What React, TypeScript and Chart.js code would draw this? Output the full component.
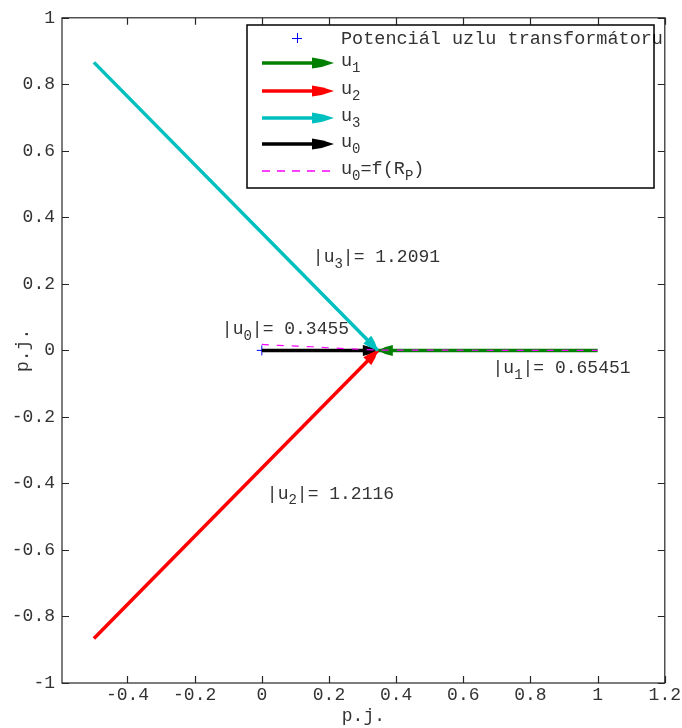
import React, { useEffect, useRef } from 'react';
import { Chart, registerables } from 'chart.js';

Chart.register(...registerables);

// ---- axis ticks ----
const xTickValues = [-0.4, -0.2, 0, 0.2, 0.4, 0.6, 0.8, 1, 1.2];
const xTickLabels = ['-0.4', '-0.2', '0', '0.2', '0.4', '0.6', '0.8', '1', '1.2'];
const yTickValues = [-1, -0.8, -0.6, -0.4, -0.2, 0, 0.2, 0.4, 0.6, 0.8, 1];
const yTickLabels = ['-1', '-0.8', '-0.6', '-0.4', '-0.2', '0', '0.2', '0.4', '0.6', '0.8', '1'];

// ---- series (tail -> tip) ----
const originX = [0];
const originY = [0];
const u1X = [1, 0.3455];
const u1Y = [0, 0];
const u2X = [-0.5, 0.3455];
const u2Y = [-0.866, 0];
const u3X = [-0.5, 0.3455];
const u3Y = [0.866, 0];
const u0X = [0, 0.3455];
const u0Y = [0, 0];
const locusX = [0, 0.05, 0.1, 0.15, 0.2, 0.25, 0.3, 0.35, 0.45, 0.6, 0.8, 1];
const locusY = [0.018, 0.015, 0.013, 0.011, 0.008, 0.005, 0.003, 0.001, 0.001, 0.0005, 0.0002, 0];

// ---- annotations ----
const annotX = [0.687, -0.119, 0.015, 0.152];
const annotY = [-0.054, 0.063, -0.431, 0.281];
const annotSub = ['1', '0', '2', '3'];
const annotValue = ['0.65451', '0.3455', '1.2116', '1.2091'];

const TEXT = '#333333';
const MAGENTA = '#ff00ff';
const MONO = '"Liberation Mono", "DejaVu Sans Mono", monospace';
const MAIN_FONT = `18px ${MONO}`;
const LEG_FONT = `18.5px ${MONO}`;
const SUB_FONT = `14px ${MONO}`;

type Part = [string, boolean];

function drawRich(ctx: CanvasRenderingContext2D, x: number, y: number, parts: Part[], mainFont = MAIN_FONT) {
  let cx = x;
  ctx.textBaseline = 'middle';
  ctx.textAlign = 'left';
  for (const [t, sub] of parts) {
    ctx.font = sub ? SUB_FONT : mainFont;
    ctx.fillText(t, cx, sub ? y + 7 : y);
    cx += ctx.measureText(t).width;
  }
}

function drawHead(ctx: CanvasRenderingContext2D, x: number, y: number, ang: number, len: number, half: number, color: string) {
  ctx.save();
  ctx.translate(x, y);
  ctx.rotate(ang);
  ctx.fillStyle = color;
  ctx.beginPath();
  ctx.moveTo(0, 0);
  ctx.quadraticCurveTo(-len * 0.5, -half * 0.8, -len, -half);
  ctx.lineTo(-len, half);
  ctx.quadraticCurveTo(-len * 0.5, half * 0.8, 0, 0);
  ctx.closePath();
  ctx.fill();
  ctx.restore();
}

const arrowPlugin = {
  id: 'arrowHeads',
  afterDatasetDraw(chart: any, args: any) {
    const ds = chart.data.datasets[args.index];
    if (!ds.isArrow) return;
    const pts = args.meta.data;
    const tip = pts[pts.length - 1];
    const tail = pts[pts.length - 2];
    const ang = Math.atan2(tip.y - tail.y, tip.x - tail.x);
    const ctx = chart.ctx;
    ctx.save();
    const a = chart.chartArea;
    ctx.beginPath();
    ctx.rect(a.left, a.top, a.right - a.left, a.bottom - a.top);
    ctx.clip();
    drawHead(ctx, tip.x, tip.y, ang, 15, 5.5, ds.borderColor);
    ctx.restore();
  },
};

const boxPlugin = {
  id: 'matlabBox',
  afterDatasetsDraw(chart: any) {
    const ctx = chart.ctx;
    const { left, right, top, bottom } = chart.chartArea;
    const xs = chart.scales.x;
    const ys = chart.scales.y;
    ctx.save();
    ctx.strokeStyle = '#262626';
    ctx.lineWidth = 1.2;
    ctx.strokeRect(left, top, right - left, bottom - top);
    ctx.beginPath();
    const tl = 7;
    for (const v of xTickValues) {
      const px = Math.round(xs.getPixelForValue(v)) + 0.5;
      ctx.moveTo(px, bottom);
      ctx.lineTo(px, bottom - tl);
      ctx.moveTo(px, top);
      ctx.lineTo(px, top + tl);
    }
    for (const v of yTickValues) {
      const py = Math.round(ys.getPixelForValue(v)) + 0.5;
      ctx.moveTo(left, py);
      ctx.lineTo(left + tl, py);
      ctx.moveTo(right, py);
      ctx.lineTo(right - tl, py);
    }
    ctx.stroke();

    // annotations
    ctx.fillStyle = TEXT;
    for (let i = 0; i < annotX.length; i++) {
      const px = xs.getPixelForValue(annotX[i]);
      const py = ys.getPixelForValue(annotY[i]);
      drawRich(ctx, px, py, [['|u', false], [annotSub[i], true], ['|= ' + annotValue[i], false]]);
    }
    ctx.restore();
  },
  afterDraw(chart: any) {
    const ctx = chart.ctx;
    const ds = chart.data.datasets;
    const bx = 247, by = 25, bw = 407, bh = 163;
    ctx.save();
    ctx.fillStyle = '#ffffff';
    ctx.fillRect(bx, by, bw, bh);
    const rows = [38, 63, 91, 118, 144, 171];
    const x0 = 262, x1 = 334, tx = 341;
    // row 0: plus marker
    ctx.strokeStyle = ds[0].borderColor;
    ctx.lineWidth = 1;
    ctx.beginPath();
    ctx.moveTo(297 - 5, rows[0] + 0.5);
    ctx.lineTo(297 + 5, rows[0] + 0.5);
    ctx.moveTo(297.5, rows[0] - 5);
    ctx.lineTo(297.5, rows[0] + 5);
    ctx.stroke();
    // arrow rows: u1, u2, u3, u0
    const arrowIdx = [2, 3, 4, 1];
    for (let r = 1; r <= 4; r++) {
      const col = ds[arrowIdx[r - 1]].borderColor;
      ctx.strokeStyle = col;
      ctx.lineWidth = 3.5;
      ctx.beginPath();
      ctx.moveTo(x0, rows[r]);
      ctx.lineTo(x1 - 10, rows[r]);
      ctx.stroke();
      drawHead(ctx, x1, rows[r], 0, 22, 5.5, col);
    }
    // dashed row
    ctx.strokeStyle = MAGENTA;
    ctx.lineWidth = 1.5;
    ctx.setLineDash([8, 7]);
    ctx.beginPath();
    ctx.moveTo(x0, rows[5]);
    ctx.lineTo(x1, rows[5]);
    ctx.stroke();
    ctx.setLineDash([]);
    // texts
    ctx.fillStyle = TEXT;
    drawRich(ctx, tx, rows[0] + 1, [[ds[0].label, false]], LEG_FONT);
    const subs = ['1', '2', '3', '0'];
    for (let i = 1; i <= 4; i++) {
      drawRich(ctx, tx, rows[i] - 2, [['u', false], [subs[i - 1], true]], LEG_FONT);
    }
    drawRich(ctx, tx, rows[5] - 2, [['u', false], ['0', true], ['=f(R', false], ['P', true], [')', false]], LEG_FONT);
    ctx.strokeStyle = '#000000';
    ctx.lineWidth = 1.5;
    ctx.strokeRect(bx, by, bw, bh);
    ctx.restore();
  },
};

function pts(xs: number[], ys: number[]) {
  return xs.map((x, i) => ({ x, y: ys[i] }));
}

export default function App() {
  const ref = useRef<HTMLCanvasElement>(null);
  useEffect(() => {
    document.body.style.margin = '0';
    const canvas = ref.current!;
    const lineBase = { showLine: true, pointRadius: 0, borderWidth: 3.5, fill: false, tension: 0 };
    const chart = new Chart(canvas, {
      type: 'scatter',
      data: {
        datasets: [
          { label: 'Potenciál uzlu transformátoru', data: pts(originX, originY), showLine: false, pointStyle: 'cross', pointRadius: 5, borderColor: '#0000ff', backgroundColor: '#0000ff', borderWidth: 1, order: 7 } as any,
          { label: 'u0', data: pts(u0X, u0Y), borderColor: '#000000', backgroundColor: '#000000', isArrow: true, order: 6, ...lineBase } as any,
          { label: 'u1', data: pts(u1X, u1Y), borderColor: '#008000', backgroundColor: '#008000', isArrow: true, order: 5, ...lineBase } as any,
          { label: 'u2', data: pts(u2X, u2Y), borderColor: '#ff0000', backgroundColor: '#ff0000', isArrow: true, order: 4, ...lineBase } as any,
          { label: 'u3', data: pts(u3X, u3Y), borderColor: '#00bfbf', backgroundColor: '#00bfbf', isArrow: true, order: 3, ...lineBase } as any,
          { label: 'u0=f(RP)', data: pts(locusX, locusY), borderColor: MAGENTA, backgroundColor: MAGENTA, showLine: true, pointRadius: 0, borderWidth: 1.2, borderDash: [7, 8], order: 1 } as any,
        ],
      },
      options: {
        animation: false,
        responsive: false,
        devicePixelRatio: 1,
        layout: { padding: { top: 15, right: 17, left: 0, bottom: 0 } },
        plugins: { legend: { display: false }, tooltip: { enabled: false } },
        scales: {
          x: {
            type: 'linear',
            min: -0.595,
            max: 1.2,
            grid: { display: false, drawTicks: false },
            border: { display: false },
            ticks: {
              color: TEXT,
              font: { family: MONO, size: 18 },
              padding: 1,
              autoSkip: false,
              maxRotation: 0,
              callback: (_v: any, i: number) => xTickLabels[i],
            },
            afterBuildTicks: (s: any) => {
              s.ticks = xTickValues.map((value) => ({ value }));
            },
            afterFit: (s: any) => {
              s.height = 45;
            },
            title: { display: true, text: 'p.j.', color: TEXT, font: { family: MONO, size: 18 }, padding: { top: 0, bottom: 1 } },
          },
          y: {
            type: 'linear',
            min: -1,
            max: 1,
            grid: { display: false, drawTicks: false },
            border: { display: false },
            ticks: {
              color: TEXT,
              font: { family: MONO, size: 18 },
              padding: 7,
              autoSkip: false,
              callback: (_v: any, i: number) => yTickLabels[i],
            },
            afterBuildTicks: (s: any) => {
              s.ticks = yTickValues.map((value) => ({ value }));
            },
            afterFit: (s: any) => {
              s.width = 62;
            },
            title: { display: true, text: 'p.j.', color: TEXT, font: { family: MONO, size: 18 }, padding: { top: 12, bottom: 0 } },
          },
        },
      } as any,
      plugins: [arrowPlugin, boxPlugin],
    });
    return () => chart.destroy();
  }, []);
  return (
    <div style={{ width: 682, height: 728, position: 'relative' }}>
      <canvas ref={ref} width={682} height={728} style={{ display: 'block', width: '682px', height: '728px' }} />
    </div>
  );
}
